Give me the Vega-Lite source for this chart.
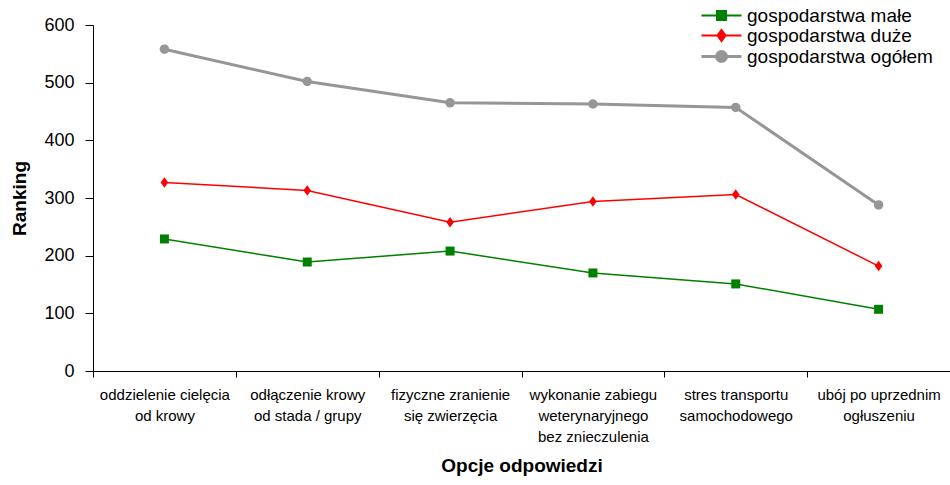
{
  "$schema": "https://vega.github.io/schema/vega-lite/v6.json",
  "width": 857,
  "height": 346,
  "autosize": {"type": "none"},
  "padding": {"left": 93, "top": 25, "right": 0, "bottom": 114},
  "background": "white",
  "config": {
    "view": {"stroke": null},
    "font": "Liberation Sans",
    "axis": {"domainColor": "black", "tickColor": "black", "labelColor": "black", "titleColor": "black", "grid": false, "domainWidth": 1, "tickWidth": 1}
  },
  "data": {
    "values": [
      {"category": "oddzielenie cielęcia od krowy", "series": "gospodarstwa małe", "value": 229},
      {"category": "odłączenie krowy od stada / grupy", "series": "gospodarstwa małe", "value": 189},
      {"category": "fizyczne zranienie się zwierzęcia", "series": "gospodarstwa małe", "value": 208},
      {"category": "wykonanie zabiegu weterynaryjnego bez znieczulenia", "series": "gospodarstwa małe", "value": 170},
      {"category": "stres transportu samochodowego", "series": "gospodarstwa małe", "value": 151},
      {"category": "ubój po uprzednim ogłuszeniu", "series": "gospodarstwa małe", "value": 107},
      {"category": "oddzielenie cielęcia od krowy", "series": "gospodarstwa duże", "value": 327},
      {"category": "odłączenie krowy od stada / grupy", "series": "gospodarstwa duże", "value": 313},
      {"category": "fizyczne zranienie się zwierzęcia", "series": "gospodarstwa duże", "value": 258},
      {"category": "wykonanie zabiegu weterynaryjnego bez znieczulenia", "series": "gospodarstwa duże", "value": 294},
      {"category": "stres transportu samochodowego", "series": "gospodarstwa duże", "value": 306},
      {"category": "ubój po uprzednim ogłuszeniu", "series": "gospodarstwa duże", "value": 182},
      {"category": "oddzielenie cielęcia od krowy", "series": "gospodarstwa ogółem", "value": 558},
      {"category": "odłączenie krowy od stada / grupy", "series": "gospodarstwa ogółem", "value": 502},
      {"category": "fizyczne zranienie się zwierzęcia", "series": "gospodarstwa ogółem", "value": 465},
      {"category": "wykonanie zabiegu weterynaryjnego bez znieczulenia", "series": "gospodarstwa ogółem", "value": 463},
      {"category": "stres transportu samochodowego", "series": "gospodarstwa ogółem", "value": 457},
      {"category": "ubój po uprzednim ogłuszeniu", "series": "gospodarstwa ogółem", "value": 288}
    ]
  },
  "encoding": {
    "x": {
      "field": "category",
      "type": "nominal",
      "bandPosition": 0.5,
      "sort": ["oddzielenie cielęcia od krowy", "odłączenie krowy od stada / grupy", "fizyczne zranienie się zwierzęcia", "wykonanie zabiegu weterynaryjnego bez znieczulenia", "stres transportu samochodowego", "ubój po uprzednim ogłuszeniu"],
      "scale": {"type": "band", "paddingInner": 0, "paddingOuter": 0},
      "axis": {
        "title": "Opcje odpowiedzi",
        "titleFontSize": 19,
        "titleFontWeight": "bold",
        "titlePadding": 12,
        "labelAngle": 0,
        "labelFontSize": 15,
        "labelLineHeight": 21,
        "labelPadding": 10,
        "labelOverlap": false,
        "labelLimit": 200,
        "tickBand": "extent",
        "tickSize": 6,
        "labelExpr": "{'oddzielenie cielęcia od krowy':['oddzielenie cielęcia','od krowy'],'odłączenie krowy od stada / grupy':['odłączenie krowy','od stada / grupy'],'fizyczne zranienie się zwierzęcia':['fizyczne zranienie','się zwierzęcia'],'wykonanie zabiegu weterynaryjnego bez znieczulenia':['wykonanie zabiegu','weterynaryjnego','bez znieczulenia'],'stres transportu samochodowego':['stres transportu','samochodowego'],'ubój po uprzednim ogłuszeniu':['ubój po uprzednim','ogłuszeniu']}[datum.label]"
      }
    },
    "y": {
      "field": "value",
      "type": "quantitative",
      "scale": {"domain": [0, 600], "nice": false},
      "axis": {
        "title": "Ranking",
        "titleFontSize": 19,
        "titleFontWeight": "bold",
        "titlePadding": 14,
        "values": [0, 100, 200, 300, 400, 500, 600],
        "labelFontSize": 18,
        "labelPadding": 11,
        "tickSize": 8
      }
    }
  },
  "layer": [
    {
      "transform": [{"filter": "datum.series === 'gospodarstwa ogółem'"}],
      "mark": {"type": "line", "color": "#969696", "strokeWidth": 3}
    },
    {
      "transform": [{"filter": "datum.series === 'gospodarstwa duże'"}],
      "mark": {"type": "line", "color": "#ff0000", "strokeWidth": 1.5}
    },
    {
      "transform": [{"filter": "datum.series === 'gospodarstwa małe'"}],
      "mark": {"type": "line", "color": "#008000", "strokeWidth": 1.5}
    },
    {
      "transform": [{"filter": "datum.series === 'gospodarstwa małe'"}],
      "mark": {"type": "point", "filled": true, "opacity": 1, "shape": "square", "size": 81, "color": "#008000"}
    },
    {
      "transform": [{"filter": "datum.series === 'gospodarstwa duże'"}],
      "mark": {"type": "point", "filled": true, "opacity": 1, "shape": "M0,-1.3L0.95,0L0,1.3L-0.95,0Z", "size": 64, "color": "#ff0000"}
    },
    {
      "transform": [{"filter": "datum.series === 'gospodarstwa ogółem'"}],
      "mark": {"type": "point", "filled": true, "opacity": 1, "shape": "circle", "size": 90, "color": "#969696"}
    },
    {
      "mark": {"type": "point", "filled": true, "fillOpacity": 0, "strokeOpacity": 0},
      "encoding": {
        "color": {"field": "series", "type": "nominal", "scale": {"domain": ["gospodarstwa małe", "gospodarstwa duże", "gospodarstwa ogółem"], "range": ["#008000", "#ff0000", "#969696"]}, "legend": {"title": null, "orient": "none", "legendX": 619, "legendY": -19, "labelFontSize": 19, "labelOffset": 16, "labelLimit": 300, "symbolSize": 100, "rowPadding": -1, "padding": 0,
            "encode": {"symbols": {"update": {"stroke": {"scale": "color", "field": "value"}, "strokeWidth": {"signal": "datum.value === 'gospodarstwa ogółem' ? 3 : 2"}, "fillOpacity": {"value": 1}, "strokeOpacity": {"value": 1}, "opacity": {"value": 1}}}}}},
        "shape": {"field": "series", "type": "nominal", "scale": {"domain": ["gospodarstwa małe", "gospodarstwa duże", "gospodarstwa ogółem"], "range": ["M-4,0H4M-0.9,-0.9H0.9V0.9H-0.9Z", "M-4,0H4M0,-1.1L0.8,0L0,1.1L-0.8,0Z", "M-4,0H4M-1,0A1,1 0 1,0 1,0A1,1 0 1,0 -1,0Z"]}, "legend": {"title": null, "orient": "none", "legendX": 619, "legendY": -19, "labelFontSize": 19, "labelOffset": 16, "labelLimit": 300, "symbolSize": 100, "rowPadding": -1, "padding": 0,
            "encode": {"symbols": {"update": {"stroke": {"scale": "color", "field": "value"}, "strokeWidth": {"signal": "datum.value === 'gospodarstwa ogółem' ? 3 : 2"}, "fillOpacity": {"value": 1}, "strokeOpacity": {"value": 1}, "opacity": {"value": 1}}}}}}
      }
    }
  ]
}
